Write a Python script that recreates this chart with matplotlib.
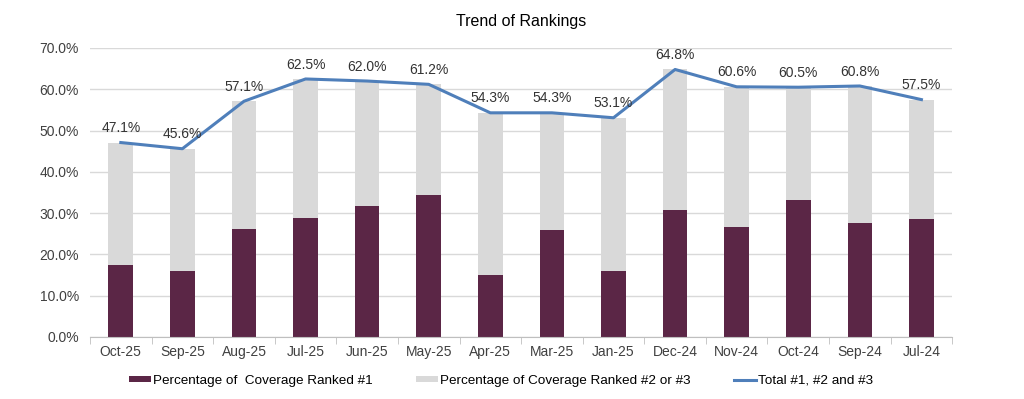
import matplotlib.pyplot as plt
import numpy as np

plt.rcParams['font.family'] = ['Liberation Sans', 'DejaVu Sans']

months = ["Oct-25", "Sep-25", "Aug-25", "Jul-25", "Jun-25", "May-25", "Apr-25",
          "Mar-25", "Jan-25", "Dec-24", "Nov-24", "Oct-24", "Sep-24", "Jul-24"]
total = [47.1, 45.6, 57.1, 62.5, 62.0, 61.2, 54.3, 54.3, 53.1, 64.8, 60.6, 60.5, 60.8, 57.5]
ranked1 = [17.4, 15.9, 26.2, 28.9, 31.8, 34.5, 14.9, 25.9, 16.1, 30.7, 26.6, 33.2, 27.7, 28.5]
ranked23 = [t - r for t, r in zip(total, ranked1)]

fig = plt.figure(figsize=(10.24, 3.99), dpi=100)
ax = fig.add_axes([0.0879, 0.1554, 0.842, 0.7243])

x = np.arange(len(months))
b1 = ax.bar(x, ranked1, width=0.4, color="#5B2646", zorder=2)
b2 = ax.bar(x, ranked23, width=0.4, bottom=ranked1, color="#D9D9D9", zorder=2)
ln, = ax.plot(x, total, color="#4F7FBA", linewidth=2.2, zorder=3)

for xi, t in zip(x, total):
    ax.text(xi, t + 1.8, f"{t:.1f}%", ha="center", va="bottom", fontsize=10, color="#333333")

ax.set_ylim(0, 70)
ax.set_yticks(np.arange(0, 71, 10))
ax.set_yticklabels([f"{v:.1f}%" for v in np.arange(0, 71, 10)], fontsize=10, color="#404040")
ax.set_xlim(-0.5, len(months) - 0.5)
ax.set_xticks(x)
ax.set_xticklabels(months, fontsize=10, color="#404040")
ax.set_xticks(np.arange(-0.5, len(months), 1), minor=True)
ax.tick_params(axis="x", which="major", length=0, pad=6)
ax.tick_params(axis="x", which="minor", length=5, color="#BFBFBF")
ax.tick_params(axis="y", length=0, pad=8)
ax.grid(axis="y", color="#D9D9D9", linewidth=1, zorder=0)
for s in ["top", "right", "left"]:
    ax.spines[s].set_visible(False)
ax.spines["bottom"].set_color("#BFBFBF")

ax.set_title("Trend of Rankings", fontsize=11.5, pad=16)

fig.legend([b1, b2, ln],
           ["Percentage of  Coverage Ranked #1", "Percentage of Coverage Ranked #2 or #3",
            "Total #1, #2 and #3"],
           loc="lower center", bbox_to_anchor=(0.489, 0.0), ncol=3, frameon=False,
           fontsize=9.7, columnspacing=3.2, handlelength=1.65, handleheight=0.4,
           handletextpad=0.15)

fig.savefig("out.png", dpi=100)
